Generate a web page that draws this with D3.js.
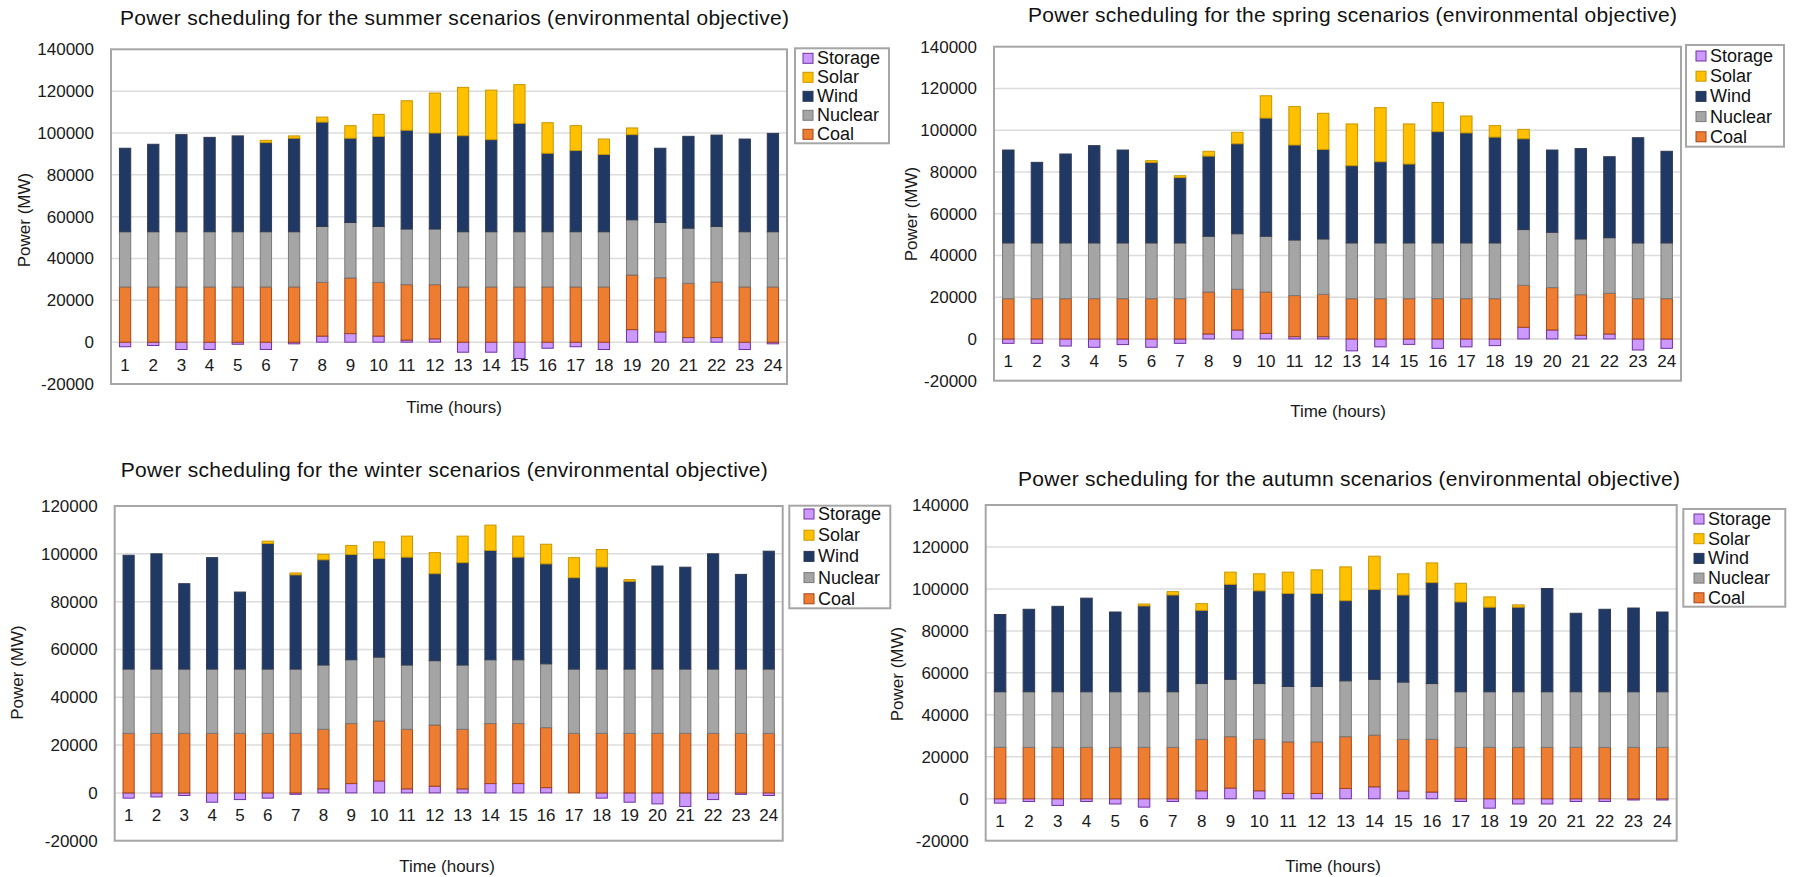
<!DOCTYPE html>
<html>
<head>
<meta charset="utf-8">
<script src="https://cdn.jsdelivr.net/npm/d3@7/dist/d3.min.js"></script>
<style>
  html, body { margin: 0; padding: 0; background: #ffffff; }
  svg { display: block; font-family: "Liberation Sans", Arial, sans-serif; }
</style>
</head>
<body>
<svg id="chart" width="1793" height="877"></svg>
<script>
// ---- categories and labels ----
const hours = ["1","2","3","4","5","6","7","8","9","10","11","12",
               "13","14","15","16","17","18","19","20","21","22","23","24"];
const stackKeys = ["Storage", "Coal", "Nuclear", "Wind", "Solar"];   // bottom to top
const legendKeys = ["Storage", "Solar", "Wind", "Nuclear", "Coal"];  // legend listing
const ticksTo140k = [-20000, 0, 20000, 40000, 60000, 80000, 100000, 120000, 140000];
const ticksTo120k = [-20000, 0, 20000, 40000, 60000, 80000, 100000, 120000];

// ---- summer (MW) ----
const summerStorage = [-2200,-1600,-3500,-3500,-1000,-3500,-800,2900,4100,2900,1000,1600,-4800,-4800,-7800,-2900,-2200,-3500,6000,4900,2200,2200,-3500,-800];
const summerCoal    = [26400,26400,26400,26400,26400,26400,26400,25700,26600,25700,26500,25900,26400,26400,26400,26400,26400,26400,26100,25900,25900,26600,26400,26400];
const summerNuclear = [26400,26400,26400,26400,26400,26400,26400,26700,26500,26700,26600,26600,26400,26400,26400,26400,26400,26400,26400,26400,26400,26500,26400,26400];
const summerWind    = [39900,41800,46400,45100,45800,42600,44700,49900,40300,43000,47200,45900,45900,44000,51800,37500,38800,36900,40700,35500,43900,43700,44300,47000];
const summerSolar   = [0,0,0,0,0,1100,1100,2400,6000,10600,14100,19100,23100,23700,18500,14600,11900,7400,3200,0,0,0,0,0];

// ---- spring (MW) ----
const springStorage = [-2100,-2100,-3400,-4000,-2700,-4000,-2100,2400,4300,2700,1100,1100,-5700,-3800,-2600,-4500,-3800,-3200,5600,4300,1800,2400,-5300,-4500];
const springCoal    = [19300,19300,19300,19300,19300,19300,19300,20100,19500,19800,19700,20300,19300,19300,19300,19300,19300,19300,20100,20300,19400,19500,19300,19300];
const springNuclear = [26700,26700,26700,26700,26700,26700,26700,26700,26600,26700,26600,26500,26700,26700,26700,26700,26700,26700,26700,26500,26700,26600,26700,26700];
const springWind    = [44500,38600,42600,46600,44500,38500,31300,38400,43100,56600,45500,42900,37000,38900,37800,53300,52700,50700,43500,39400,43300,38800,50400,43900];
const springSolar   = [0,0,0,0,0,900,900,2300,5500,10700,18400,17300,20000,25900,19200,14000,8100,5500,4500,0,0,0,0,0];

// ---- winter (MW) ----
const winterStorage = [-2200,-1700,-1100,-3900,-2800,-2200,-600,1700,3900,5000,1700,2800,1700,3900,3900,2200,0,-2200,-3900,-4600,-5700,-2800,-600,-1100];
const winterCoal    = [24900,24900,24900,24900,24900,24900,24900,24900,25100,25100,24900,25600,24900,25100,25100,25100,24900,24900,24900,24900,24900,24900,24900,24900];
const winterNuclear = [26900,26900,26900,26900,26900,26900,26900,26900,26700,26700,26900,26900,26900,26700,26700,26700,26900,26900,26900,26900,26900,26900,26900,26900];
const winterWind    = [47600,48200,35700,46600,32200,52500,39400,44000,44000,41200,45100,36400,42800,45700,42900,41800,38200,42700,36700,43100,42600,48200,39600,49300];
const winterSolar   = [0,0,0,0,0,1000,800,2300,3800,7000,8800,8800,11100,10600,8800,8200,8400,7300,700,0,0,0,0,0];

// ---- autumn (MW) ----
const autumnStorage = [-2100,-1300,-3200,-1300,-2500,-4000,-1300,3800,5100,3800,2500,2500,4900,5700,3700,3200,-1300,-4500,-2500,-2500,-1300,-1300,-600,-600];
const autumnCoal    = [24500,24500,24500,24500,24500,24500,24500,24500,24500,24500,24600,24600,24700,24600,24600,25100,24500,24500,24500,24500,24500,24500,24500,24500];
const autumnNuclear = [26500,26500,26500,26500,26500,26500,26500,26600,27300,26600,26400,26400,26600,26600,27300,26600,26500,26500,26500,26500,26500,26500,26500,26500];
const autumnWind    = [36800,39300,40700,44600,38000,40900,46100,34900,45300,44200,44300,44300,38200,42800,41500,48100,42800,40300,40300,49200,37400,39300,39900,38000];
const autumnSolar   = [0,0,0,0,0,900,1600,3200,5800,8100,10200,11300,16100,15900,10100,9400,8900,4900,1100,0,0,0,0,0];

// ---- styling ----
const fills   = { Storage: "#cc99ff", Solar: "#ffc000", Wind: "#203864", Nuclear: "#a5a5a5", Coal: "#ed7d31" };
const strokes = { Storage: "#7030a0", Solar: "#c89600", Wind: "#2e3a52", Nuclear: "#7a7a7a", Coal: "#a4471a" };

const panels = [
  { title: "Power scheduling for the summer scenarios (environmental objective)",
    series: { Storage: summerStorage, Coal: summerCoal, Nuclear: summerNuclear, Wind: summerWind, Solar: summerSolar },
    ticks: ticksTo140k,
    plot: { x0: 111, x1: 787, y0: 49.3, y1: 384 },
    titlePos: { x: 454.5, y: 25, w: 669 },
    yLabel: { x: 24, y: 220 }, timeLabel: { x: 454, y: 407 },
    legend: { x: 795, y: 48.3, w: 94, h: 95, rowY: 58.3, step: 19, sw: 803, tx: 817 } },
  { title: "Power scheduling for the spring scenarios (environmental objective)",
    series: { Storage: springStorage, Coal: springCoal, Nuclear: springNuclear, Wind: springWind, Solar: springSolar },
    ticks: ticksTo140k,
    plot: { x0: 994, x1: 1681, y0: 46.7, y1: 380.7 },
    titlePos: { x: 1352.5, y: 21.7, w: 649 },
    yLabel: { x: 911, y: 214 }, timeLabel: { x: 1338, y: 411 },
    legend: { x: 1686, y: 45, w: 98, h: 101.7, rowY: 56, step: 20.2, sw: 1696, tx: 1710 } },
  { title: "Power scheduling for the winter scenarios (environmental objective)",
    series: { Storage: winterStorage, Coal: winterCoal, Nuclear: winterNuclear, Wind: winterWind, Solar: winterSolar },
    ticks: ticksTo120k,
    plot: { x0: 114.7, x1: 782.7, y0: 506, y1: 840.7 },
    titlePos: { x: 444.3, y: 476.7, w: 647 },
    yLabel: { x: 17.5, y: 672.5 }, timeLabel: { x: 447, y: 866 },
    legend: { x: 789.3, y: 505.7, w: 101, h: 102.6, rowY: 514, step: 21.2, sw: 804, tx: 818 } },
  { title: "Power scheduling for the autumn scenarios (environmental objective)",
    series: { Storage: autumnStorage, Coal: autumnCoal, Nuclear: autumnNuclear, Wind: autumnWind, Solar: autumnSolar },
    ticks: ticksTo140k,
    plot: { x0: 985.7, x1: 1676.7, y0: 505, y1: 840.7 },
    titlePos: { x: 1349, y: 486, w: 662 },
    yLabel: { x: 897, y: 674 }, timeLabel: { x: 1333, y: 866 },
    legend: { x: 1683.3, y: 509, w: 102, h: 97.7, rowY: 519, step: 19.7, sw: 1694, tx: 1708 } }
];

const svg = d3.select("#chart");
svg.append("rect").attr("width", 1793).attr("height", 877).attr("fill", "#ffffff");

panels.forEach(p => {
  const g = svg.append("g");
  const rows = hours.map((h, i) => {
    const r = { hour: h };
    stackKeys.forEach(k => { r[k] = p.series[k][i]; });
    return r;
  });
  const stacked = d3.stack().keys(stackKeys).offset(d3.stackOffsetDiverging)(rows);

  const x = d3.scaleBand().domain(hours).range([p.plot.x0, p.plot.x1])
    .paddingInner(0.6).paddingOuter(0.3);
  const y = d3.scaleLinear().domain([p.ticks[0], p.ticks[p.ticks.length - 1]])
    .range([p.plot.y1, p.plot.y0]);

  // gridlines
  g.append("g").selectAll("line")
    .data(p.ticks.slice(1, -1))
    .join("line")
    .attr("x1", p.plot.x0).attr("x2", p.plot.x1)
    .attr("y1", d => y(d)).attr("y2", d => y(d))
    .attr("stroke", "#dcdcdc").attr("stroke-width", 1.5);

  // stacked bars
  g.append("g").selectAll("g")
    .data(stacked)
    .join("g")
    .attr("fill", s => fills[s.key])
    .attr("stroke", s => strokes[s.key])
    .attr("stroke-width", 1)
    .selectAll("rect")
    .data(s => s.filter(d => d[1] !== d[0]))
    .join("rect")
    .attr("x", d => x(d.data.hour))
    .attr("width", x.bandwidth())
    .attr("y", d => y(Math.max(d[0], d[1])))
    .attr("height", d => Math.abs(y(d[0]) - y(d[1])));

  // plot frame
  g.append("rect")
    .attr("x", p.plot.x0).attr("y", p.plot.y0)
    .attr("width", p.plot.x1 - p.plot.x0).attr("height", p.plot.y1 - p.plot.y0)
    .attr("fill", "none").attr("stroke", "#a6a6a6").attr("stroke-width", 2);

  // value axis (plain hyphen for negative labels)
  const yAxis = g.append("g")
    .attr("transform", `translate(${p.plot.x0},0)`)
    .call(d3.axisLeft(y).tickValues(p.ticks).tickSize(0).tickPadding(17).tickFormat(d => String(d)));
  yAxis.select(".domain").remove();
  yAxis.selectAll("text").attr("font-size", 17).attr("fill", "#1a1a1a")
    .attr("font-family", "Liberation Sans, Arial, sans-serif");

  // category axis, labels sit just under the zero line
  const xAxis = g.append("g")
    .attr("transform", `translate(0,${y(0)})`)
    .call(d3.axisBottom(x).tickSize(0));
  xAxis.select(".domain").remove();
  xAxis.selectAll("text").attr("y", 22.5).attr("dy", "0.35em")
    .attr("font-size", 17).attr("fill", "#1a1a1a")
    .attr("font-family", "Liberation Sans, Arial, sans-serif");

  // title
  g.append("text")
    .attr("x", p.titlePos.x).attr("y", p.titlePos.y)
    .attr("text-anchor", "middle")
    .attr("font-size", 21).attr("fill", "#111111")
    .attr("textLength", p.titlePos.w).attr("lengthAdjust", "spacing")
    .text(p.title);

  // axis titles
  g.append("text")
    .attr("transform", `translate(${p.yLabel.x},${p.yLabel.y}) rotate(-90)`)
    .attr("text-anchor", "middle").attr("dominant-baseline", "central")
    .attr("font-size", 17).attr("fill", "#1a1a1a")
    .text("Power (MW)");
  g.append("text")
    .attr("x", p.timeLabel.x).attr("y", p.timeLabel.y)
    .attr("text-anchor", "middle").attr("dominant-baseline", "central")
    .attr("font-size", 17).attr("fill", "#1a1a1a")
    .text("Time (hours)");

  // legend
  const L = p.legend;
  g.append("rect")
    .attr("x", L.x).attr("y", L.y).attr("width", L.w).attr("height", L.h)
    .attr("fill", "#ffffff").attr("stroke", "#a6a6a6").attr("stroke-width", 2);
  const items = g.append("g").selectAll("g")
    .data(legendKeys)
    .join("g")
    .attr("transform", (d, i) => `translate(0,${L.rowY + i * L.step})`);
  items.append("rect")
    .attr("x", L.sw).attr("y", -5).attr("width", 10).attr("height", 10)
    .attr("fill", d => fills[d]).attr("stroke", d => strokes[d]).attr("stroke-width", 1);
  items.append("text")
    .attr("x", L.tx).attr("y", 0).attr("dominant-baseline", "central")
    .attr("font-size", 18).attr("fill", "#111111")
    .text(d => d);
});
</script>
</body>
</html>
